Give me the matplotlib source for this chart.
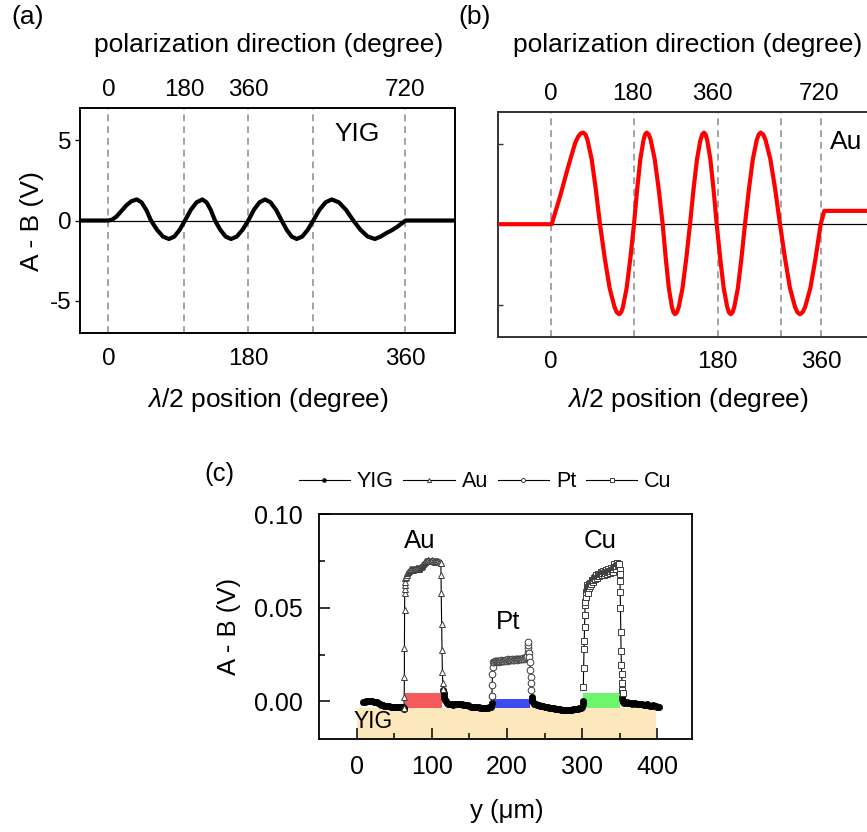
import numpy as np
import matplotlib
matplotlib.use('Agg')
import matplotlib.pyplot as plt
from matplotlib.patches import Rectangle

plt.rcParams['font.family'] = ['Liberation Sans', 'DejaVu Sans']
plt.rcParams['mathtext.fontset'] = 'custom'
plt.rcParams['mathtext.it'] = 'Liberation Sans:italic'
plt.rcParams['mathtext.rm'] = 'Liberation Sans'
plt.rcParams['axes.unicode_minus'] = False

# ---------------- data ----------------
# (a) YIG: lambda/2 position (deg) vs A-B (V)
yig_scan = [(-35, 0), (0, 0), (4.5, 0.05), (10, 0.25), (16, 0.6), (22, 0.95), (28, 1.2), (34.4, 1.31),
            (40.2, 1.13), (46.0, 0.66), (51.7, 0),
            (59.0, -0.58), (66.2, -1.0), (73.5, -1.15),
            (80.0, -1.0), (86.4, -0.58), (92.9, 0),
            (99.9, 0.66), (106.9, 1.13), (113.9, 1.31),
            (119.0, 1.13), (124.1, 0.66), (129.2, 0),
            (135.7, -0.58), (142.1, -1.0), (148.6, -1.15),
            (155.6, -1.0), (162.6, -0.58), (169.6, 0),
            (176.3, 0.66), (183.1, 1.13), (189.8, 1.31),
            (196.5, 1.13), (203.3, 0.66), (210.0, 0),
            (216.1, -0.58), (222.1, -1.0), (228.2, -1.15),
            (234.9, -1.0), (241.6, -0.58), (248.3, 0),
            (255.7, 0.66), (263.2, 1.13), (270.6, 1.31),
            (279.3, 1.13), (288.0, 0.66), (296.8, 0),
            (305.5, -0.58), (314.3, -1.0), (323.0, -1.15),
            (330.0, -1.0), (337.2, -0.77), (343.0, -0.62), (349.3, -0.42), (355.0, -0.2),
            (360.0, 0), (421, 0)]

# (b) Au: lambda/2 position (deg) vs A-B (V)
au_scan = [(-71, 0), (1.3, 0), (12.4, 1.72), (23.4, 3.6), (32.4, 5.03), (36.5, 5.45), (40.0, 5.65), (43.4, 5.7),
           (46.2, 5.59), (48.95, 5.25), (54.5, 4.05), (60.05, 2.17), (65.6, 0),
           (72.0, -2.13), (78.45, -3.98), (84.9, -5.15), (88.1, -5.49), (91.3, -5.6),
           (93.75, -5.49), (96.2, -5.15), (101.1, -3.98), (106.0, -2.13), (110.9, 0),
           (115.1, 2.17), (119.35, 4.05), (123.6, 5.25), (125.7, 5.59), (127.8, 5.7),
           (130.5, 5.59), (133.1, 5.25), (138.45, 4.05), (143.8, 2.17), (149.1, 0),
           (153.2, -2.13), (157.3, -3.98), (161.4, -5.15), (163.45, -5.49), (165.5, -5.6),
           (168.0, -5.49), (170.5, -5.15), (175.5, -3.98), (180.5, -2.13), (185.5, 0),
           (190.15, 2.17), (194.8, 4.05), (199.45, 5.25), (201.8, 5.59), (204.1, 5.7),
           (206.2, 5.59), (208.3, 5.25), (212.55, 4.05), (216.8, 2.17), (221.0, 0),
           (225.7, -2.13), (230.35, -3.98), (235.0, -5.15), (237.35, -5.49), (239.7, -5.6),
           (242.1, -5.49), (244.45, -5.15), (249.2, -3.98), (253.95, -2.13), (258.7, 0),
           (263.9, 2.17), (269.15, 4.05), (274.4, 5.25), (277.0, 5.59), (279.6, 5.7),
           (282.8, 5.59), (286.0, 5.25), (292.45, 4.05), (298.9, 2.17), (305.3, 0),
           (312.0, -2.13), (318.6, -3.98), (325.3, -5.15), (328.6, -5.49), (331.9, -5.6),
           (335.3, -5.49), (338.8, -5.15), (345.7, -3.98), (352.6, -2.13), (359.5, 0),
           (364.3, 0.83), (440, 0.83)]

a_marks = [0, 91.8, 169.6, 247.6, 360]
a_top_pos = [0, 92.4, 169.6, 360]
a_bot_pos = [0, 169.6, 360]
b_marks = [0, 110.9, 222.4, 306.3, 360]
b_top_pos = [0, 108.9, 214.8, 356.8]
b_bot_pos = [0, 222.4, 360]
top_labels = ['0', '180', '360', '720']
bot_labels = ['0', '180', '360']
yticks_ab = [-5, 0, 5]

# (c) line scan: y (um) vs A-B (mV)
yig_seg1 = [(9, -0.3), (11, -0.2), (13, 0.0), (15, 0.3), (17, 0.4), (19, 0.3), (21, 0.0), (23, -0.2),
            (25, -0.2), (27, -0.5), (29, -1.0), (31, -1.6), (33, -2.0), (35, -2.2), (37, -2.4),
            (39, -2.5), (41, -2.6), (43, -2.6), (45, -2.8), (47, -3.0), (49, -3.0), (51, -2.9),
            (53, -3.0), (55, -3.1), (57, -3.1), (59, -3.0), (61, -3.2), (62.5, -3.6), (63, -4.3)]
yig_seg2 = [(115.2, 6.0), (115.6, 4.5), (116.0, 3.0), (116.6, 1.8), (117.4, 0.8), (118.5, 0.0),
            (120, -0.8), (122, -1.2), (124, -1.4), (126, -1.6), (128, -1.8), (130, -1.6), (132, -1.4),
            (134, -1.3), (136, -1.2), (138, -1.3), (140, -1.6), (142, -1.8), (144, -1.9), (146, -2.0),
            (148, -2.2), (150, -2.5), (152, -2.8), (154, -3.0), (156, -3.2), (158, -3.3), (160, -3.2),
            (162, -3.3), (164, -3.5), (166, -3.6), (168, -3.5), (170, -3.4), (172, -3.5), (174, -3.4),
            (176, -3.3), (178, -3.0), (179.3, -1.0), (179.8, 3.0)]
yig_seg3 = [(232.5, 2.5), (233.0, 1.2), (233.6, 0.2), (234.5, -0.5), (236, -1.2), (238, -1.6), (240, -2.0),
            (242, -2.2), (244, -2.4), (246, -2.6), (248, -2.6), (250, -2.9), (252, -3.0), (254, -3.2),
            (256, -3.4), (258, -3.5), (260, -3.7), (262, -3.8), (264, -4.0), (266, -4.1), (268, -4.2),
            (270, -4.3), (272, -4.4), (274, -4.4), (276, -4.5), (278, -4.5), (280, -4.6), (282, -4.5),
            (284, -4.5), (286, -4.4), (288, -4.3), (290, -4.3), (292, -4.2), (294, -4.0), (296, -3.8),
            (298, -3.6), (299.5, -3.0), (300.5, -1.5), (301, 0.0)]
yig_seg4 = [(352.4, 2.5), (353.0, 1.0), (353.6, 0.0), (354.5, -0.6), (356, -0.8), (358, -0.7), (360, -0.5),
            (362, -0.7), (364, -1.0), (366, -1.2), (368, -1.0), (370, -0.9), (372, -1.3), (374, -1.6),
            (376, -1.5), (378, -1.3), (380, -1.6), (382, -2.0), (384, -1.9), (386, -1.7), (388, -2.0),
            (390, -2.3), (392, -2.4), (394, -2.2), (396, -2.3), (398, -2.7), (400, -3.0), (402, -2.9)]

au_line = [(63.0, -3.5), (63.2, 2.5), (63.4, 13.1), (63.5, 28.3), (63.7, 48.7), (63.9, 57.7), (64.0, 60.3),
           (64.2, 62.1), (64.4, 63.9), (64.6, 65.7),
           (65.5, 66.5), (66.5, 67.5), (67.5, 68.5), (68.5, 69.2), (69.5, 69.8), (70.5, 70.2), (71.5, 70.5),
           (72.5, 70.8), (73.5, 70.6), (74.5, 70.4), (75.5, 70.8), (76.5, 71.0), (77.5, 70.7), (78.5, 70.9),
           (79.5, 71.3), (80.5, 71.5), (81.5, 71.2), (82.5, 71.0), (83.5, 71.4), (84.5, 71.8), (85.5, 72.0),
           (86.5, 72.4), (87.5, 72.8), (88.5, 73.5), (89.5, 74.2), (90.5, 74.6), (91.5, 74.9), (92.5, 75.2),
           (93.5, 75.0), (94.5, 75.3), (95.5, 75.5), (96.5, 75.2), (97.5, 75.0), (98.5, 74.8), (99.5, 75.1),
           (100.5, 75.4), (101.5, 75.2), (102.5, 74.9), (103.5, 74.7), (104.5, 75.0), (105.5, 75.2),
           (106.5, 74.9), (107.5, 74.6), (108.5, 74.8), (109.5, 74.5), (110.5, 74.3), (111.5, 74.0),
           (112.0, 73.7), (112.2, 67.4), (112.4, 57.7), (113.0, 41.6), (113.5, 27.4), (114.0, 15.8),
           (114.5, 9.6), (115.0, 6.4)]

pt_line = [(179.8, 3.0), (180.2, 8.7), (180.6, 14.4), (181.2, 18.5), (181.8, 21.1),
           (182.6, 21.0), (183.8, 21.3), (185.0, 21.6), (186.2, 21.8), (187.4, 21.5), (188.6, 21.2),
           (189.8, 21.4), (191.0, 21.7), (192.2, 21.9), (193.4, 21.6), (194.6, 21.4), (195.8, 21.8),
           (197.0, 22.1), (198.2, 22.0), (199.4, 21.8), (200.6, 22.2), (201.8, 22.4), (203.0, 22.1),
           (204.2, 22.0), (205.4, 22.3), (206.6, 22.5), (207.8, 22.3), (209.0, 22.2), (210.2, 22.5),
           (211.4, 22.7), (212.6, 22.4), (213.8, 22.3), (215.0, 22.6), (216.2, 22.8), (217.4, 22.6),
           (218.6, 22.5), (219.8, 22.8), (221.0, 23.0), (222.2, 22.8), (223.4, 23.2), (224.6, 23.5),
           (225.8, 23.8), (227.0, 24.0),
           (227.8, 26.5), (228.0, 28.3), (228.1, 30.1), (228.2, 31.8), (228.6, 26.0), (229.2, 23.8),
           (230.0, 21.1), (230.8, 16.7), (231.4, 13.1), (231.9, 9.6), (232.3, 6.0)]

cu_line = [(301.4, 7.8), (301.8, 17.6), (302.3, 27.8), (302.6, 32.4), (303.0, 39.8), (303.4, 46.4),
           (303.8, 51.4), (304.2, 53.0), (304.6, 56.0),
           (305.2, 58.5), (305.8, 60.2), (306.4, 62.0), (307.0, 61.2), (307.6, 59.5), (308.2, 57.8),
           (308.8, 60.5), (309.4, 62.8), (310.0, 63.5), (310.8, 61.5), (311.6, 62.5), (312.4, 64.2),
           (313.2, 65.0), (314.0, 63.8), (314.8, 64.8), (315.6, 66.0), (316.4, 66.5), (317.2, 65.2),
           (318.0, 66.8), (318.8, 67.5), (319.6, 66.2), (320.4, 67.0), (321.2, 68.3), (322.0, 67.5),
           (322.8, 66.8), (323.6, 68.0), (324.4, 69.0), (325.2, 68.2), (326.0, 67.4), (326.8, 68.6),
           (327.6, 69.5), (328.4, 68.8), (329.2, 67.8), (330.0, 68.5), (330.8, 69.8), (331.6, 70.2),
           (332.4, 69.0), (333.2, 68.2), (334.0, 69.3), (334.8, 70.5), (335.6, 69.8), (336.4, 68.6),
           (337.2, 69.5), (338.0, 70.8), (338.8, 71.5), (339.6, 70.2), (340.4, 69.4), (341.2, 70.6),
           (342.0, 72.0), (342.8, 73.2), (343.6, 72.0), (344.4, 71.0), (345.2, 72.5), (346.0, 73.8),
           (346.8, 74.2), (347.6, 73.0), (348.4, 72.2), (349.2, 73.5),
           (349.6, 70.0), (349.9, 68.3), (350.1, 64.4), (350.4, 58.2), (350.8, 50.0), (351.2, 37.2),
           (351.6, 27.0), (352.0, 19.4), (352.4, 14.6), (352.8, 9.6), (353.2, 6.0), (353.6, 4.3)]

# metal strips (y-range in um) and substrate
strips = [(64.3, 113.0, 4.3, '#F65B5B'), (181.6, 230.3, 1.2, '#3E4BF0'), (301.0, 350.0, 4.3, '#6DF56D')]
substrate = (0.0, 398.0, -3.7)
series_names = ['YIG', 'Au', 'Pt', 'Cu']

# ---------------- layout ----------------
W, H = 867, 832
fig = plt.figure(figsize=(W / 100, H / 100), dpi=100)


def box(l, t, r, b):
    return [l / W, 1 - b / H, (r - l) / W, (b - t) / H]


TICK = 17.5
LAB = 19


def scan_panel(rect, pts, color, marks, top_pos, bot_pos, xlim, show_ylabels, spine_c, tdir):
    ax = fig.add_axes(rect)
    x, y = zip(*pts)
    ax.plot(x, y, color=color, lw=3.0, solid_joinstyle='round', solid_capstyle='round', zorder=3)
    ax.axhline(0, color='black', lw=0.9, zorder=2)
    for m in marks:
        ax.axvline(m, color='#8a8a8a', lw=1.1, ls=(0, (4.5, 3.2)), zorder=1)
    ax.set_xlim(*xlim)
    ax.set_ylim(-7, 7)
    ax.set_xticks(bot_pos, bot_labels)
    ax.set_yticks(yticks_ab)
    if show_ylabels:
        ax.set_yticklabels([str(v) for v in yticks_ab])
    else:
        ax.set_yticklabels([])
    ax.tick_params(axis='x', length=0, pad=10.5, labelsize=TICK)
    ax.tick_params(axis='y', direction=tdir, length=3.8, width=1.0, pad=2.4, labelsize=TICK, color=spine_c)
    for s in ax.spines.values():
        s.set_color(spine_c)
        s.set_linewidth(1.4)
    sec = ax.secondary_xaxis('top')
    sec.set_xticks(top_pos, top_labels)
    sec.tick_params(length=0, pad=5, labelsize=TICK)
    sec.spines['top'].set_visible(False)
    return ax


axa = scan_panel(box(80, 108, 455, 333), yig_scan, 'black', a_marks, a_top_pos, a_bot_pos,
                 (-34.3, 420.0), True, 'black', 'out')
axa.text(301, 5.4, 'YIG', ha='center', va='center', fontsize=LAB)
fig.text(268.5 / W, 1 - 45 / H, 'polarization direction (degree)', ha='center', va='center', fontsize=LAB)
fig.text(268 / W, 1 - 400 / H, r'$\it{\lambda}$/2 position (degree)', ha='center', va='center', fontsize=LAB)
fig.text(31.7 / W, 1 - 221 / H, 'A - B (V)', ha='center', va='center', rotation=90, fontsize=LAB)
fig.text(27.5 / W, 1 - 17 / H, '(a)', ha='center', va='center', fontsize=LAB)

axb = scan_panel(box(497.7, 111.7, 878, 336.7), au_scan, '#FF0000', b_marks, b_top_pos, b_bot_pos,
                 (-70.6, 435.8), False, '#333333', 'in')
axb.text(372, 5.1, 'Au', ha='left', va='center', fontsize=LAB)
fig.text(688 / W, 1 - 45 / H, 'polarization direction (degree)', ha='center', va='center', fontsize=LAB)
fig.text(688 / W, 1 - 400 / H, r'$\it{\lambda}$/2 position (degree)', ha='center', va='center', fontsize=LAB)
fig.text(475 / W, 1 - 17 / H, '(b)', ha='center', va='center', fontsize=LAB)

# ---------------- panel (c) ----------------
axc = fig.add_axes(box(319.3, 514.3, 692, 738.7))
axc.set_xlim(-49.7, 445.9)
axc.set_ylim(-0.02, 0.10)
axc.add_patch(Rectangle((substrate[0], -0.02), substrate[1] - substrate[0], substrate[2] / 1000 + 0.02,
                        facecolor='#FDE8BD', edgecolor='none', zorder=0))
for x0, x1, top, col in strips:
    axc.add_patch(Rectangle((x0, -0.0037), x1 - x0, top / 1000 + 0.0037, facecolor=col,
                            edgecolor='none', zorder=1))

yig_all = []
for seg in (yig_seg1, yig_seg2, yig_seg3, yig_seg4):
    yig_all += seg + [(np.nan, np.nan)]
yx, yy = zip(*yig_all)
line_kw = dict(color='black', lw=0.8, zorder=3)
h_yig, = axc.plot(yx, np.array(yy) / 1000, marker='o', ms=4.5, mfc='black', mec='black', mew=0.5, **line_kw)
ax_, ay_ = zip(*au_line)
h_au, = axc.plot(ax_, np.array(ay_) / 1000, marker='^', ms=4.8, mfc='white', mec='#3c3c3c', mew=0.7, **line_kw)
px_, py_ = zip(*pt_line)
h_pt, = axc.plot(px_, np.array(py_) / 1000, marker='o', ms=4.8, mfc='white', mec='#3c3c3c', mew=0.7, **line_kw)
cx_, cy_ = zip(*cu_line)
h_cu, = axc.plot(cx_, np.array(cy_) / 1000, marker='s', ms=4.4, mfc='white', mec='#3c3c3c', mew=0.7, **line_kw)

axc.set_xticks([0, 100, 200, 300, 400])
axc.set_xticks([50, 150, 250, 350], minor=True)
axc.set_yticks([0.0, 0.05, 0.10], ['0.00', '0.05', '0.10'])
axc.set_yticks([0.025, 0.075], minor=True)
axc.tick_params(which='major', direction='in', length=8, width=1.1, labelsize=18, pad=12)
axc.tick_params(which='minor', direction='in', length=4.5, width=1.1)
for s in axc.spines.values():
    s.set_linewidth(1.3)

axc.text(83.3, 0.0857, 'Au', ha='center', va='center', fontsize=18.6)
axc.text(201.2, 0.0422, 'Pt', ha='center', va='center', fontsize=18.6)
axc.text(323.1, 0.0857, 'Cu', ha='center', va='center', fontsize=18.6)
axc.text(21.7, -0.0106, 'YIG', ha='center', va='center', fontsize=16.4, zorder=4)

fig.text(506.7 / W, 1 - 811 / H, 'y (μm)', ha='center', va='center', fontsize=18.5)
fig.text(229 / W, 1 - 626.5 / H, 'A - B (V)', ha='center', va='center', rotation=90, fontsize=18.5)
fig.text(219 / W, 1 - 474 / H, '(c)', ha='center', va='center', fontsize=18.5)

axc.legend([h_yig, h_au, h_pt, h_cu], series_names, loc='center', bbox_to_anchor=(0.4446, 1.145),
           ncol=4, frameon=False, fontsize=15.5, handlelength=2.4, handletextpad=0.3, columnspacing=0.45,
           markerscale=0.6, borderaxespad=0, borderpad=0)

fig.savefig('out.png', dpi=100)
